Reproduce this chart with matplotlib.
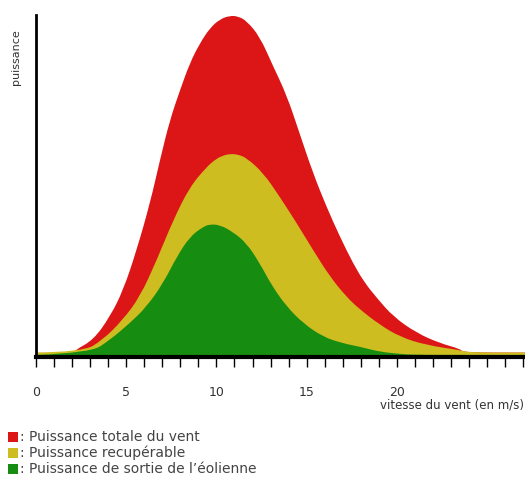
import matplotlib
matplotlib.use("Agg")
import matplotlib.pyplot as plt
from matplotlib.patches import Rectangle, PathPatch
from matplotlib.path import Path

# Data (wind speed in m/s, power in arbitrary units)
red_x = [0, 2.1, 2.16, 3.18, 4.1, 4.84, 5.58, 6.32, 6.87, 7.42, 7.98, 8.53, 9.09, 9.64,
         10.2, 10.75, 11.2, 11.67, 12.4, 13.1, 13.9, 14.6, 15.35, 16.1, 16.84, 17.57,
         18.2, 18.9, 19.8, 21.1, 22.4, 23.5, 23.7, 27.1]
red_y = [1.2, 1.2, 2.0, 5.0, 11.8, 19.6, 31.3, 45, 57.6, 69.3, 78, 86, 91.8, 96.2,
         98.8, 99.8, 99.6, 98.3, 93.7, 85.5, 76.5, 65.5, 53.8, 43.9, 35.2, 27.4,
         21.8, 17.2, 11.8, 7.0, 4.0, 2.4, 1.3, 1.3]

yellow_x = [0, 2.6, 3.7, 4.8, 5.76, 6.7, 7.6, 8.53, 9.45, 9.9, 10.3, 10.75, 11.2, 11.67,
            12.6, 13.5, 14.44, 15.35, 16.29, 17.2, 17.95, 19.06, 20.17, 21.6, 23.5,
            24.0, 27.1]
yellow_y = [1.3, 1.5, 5.0, 10.8, 17.6, 28.4, 40, 49.8, 55.5, 57.6, 58.8, 59.4, 59.2, 58.2,
            53.8, 46.9, 39.2, 31.3, 23.5, 17.6, 13.9, 9.4, 5.9, 3.5, 2.0,
            1.3, 1.3]

green_x = [0, 3.0, 4.1, 5.2, 6.13, 7.05, 7.8, 8.53, 9.27, 9.64, 10.2, 10.9, 11.67,
           12.4, 13.1, 13.9, 14.8, 15.9, 17.0, 17.95, 19.06, 20.2, 21.0, 27.1]
green_y = [0.6, 1.2, 5.0, 9.9, 14.7, 21.6, 29.3, 35.2, 38.1, 38.8, 38.6, 36.6, 33.3,
           27.4, 20.6, 14.7, 9.9, 5.9, 4.0, 3.0, 1.5, 0.9, 0.6, 0.6]

tick_labels = ["0", "5", "10", "15", "20"]
tick_positions = [0, 5, 10, 15, 20]
legend_labels = [": Puissance totale du vent",
                 ": Puissance recupérable",
                 ": Puissance de sortie de l\u2019éolienne"]

RED = "#dc1616"
YELLOW = "#cdbd20"
GREEN = "#168c10"
colors = [RED, YELLOW, GREEN]


def smooth_area(ax, xs, ys, color):
    """Area under the read points, outline rendered with quadratic Bezier
    segments (each read point is a control point, joins at midpoints)."""
    verts = [(xs[0], 0), (xs[0], ys[0])]
    codes = [Path.MOVETO, Path.LINETO]
    for i in range(1, len(xs) - 1):
        mx = (xs[i] + xs[i + 1]) / 2
        my = (ys[i] + ys[i + 1]) / 2
        verts += [(xs[i], ys[i]), (mx, my)]
        codes += [Path.CURVE3, Path.CURVE3]
    verts += [(xs[-1], ys[-1]), (xs[-1], 0), (xs[0], 0)]
    codes += [Path.LINETO, Path.LINETO, Path.CLOSEPOLY]
    ax.add_patch(PathPatch(Path(verts, codes), facecolor=color, lw=0))


W, H = 525, 479
fig = plt.figure(figsize=(W / 100, H / 100), dpi=100)
ax = fig.add_axes([36 / W, 1 - 357 / H, (W - 36) / W, (357 - 15) / H])

smooth_area(ax, red_x, red_y, RED)
smooth_area(ax, yellow_x, yellow_y, YELLOW)
smooth_area(ax, green_x, green_y, GREEN)

ax.set_xlim(0, 27.1)
ax.set_ylim(0, 100)
for s in ["top", "right"]:
    ax.spines[s].set_visible(False)
ax.spines["left"].set_linewidth(2)
ax.spines["bottom"].set_linewidth(3)
ax.set_yticks([])
ax.set_xticks(range(0, 28), minor=True)
ax.set_xticks(tick_positions)
ax.set_xticklabels(tick_labels, fontsize=9, color="#333333")
ax.tick_params(axis="x", which="both", direction="out", length=7, width=1, pad=14)

fig.text(524 / W, 1 - 405 / H, "vitesse du vent (en m/s)", ha="right", va="center",
         fontsize=8.5, color="#333333")
fig.text(16 / W, 1 - 57 / H, "puissance", rotation=90, ha="center", va="center",
         fontsize=8, color="#333333")

ys = [437, 453, 469]
for lab, c, y in zip(legend_labels, colors, ys):
    fig.patches.append(Rectangle((8 / W, 1 - (y + 5) / H), 10 / W, 10 / H,
                                 transform=fig.transFigure, color=c, lw=0))
    fig.text(20 / W, 1 - y / H, lab, ha="left", va="center", fontsize=10,
             color="#444444")

fig.savefig("out.png", dpi=100)
